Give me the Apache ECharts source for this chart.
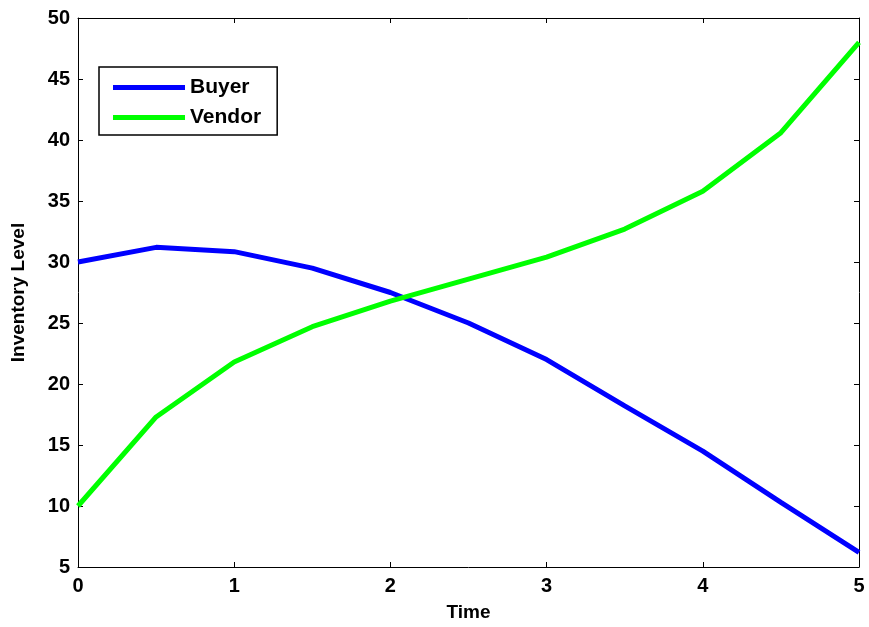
<!DOCTYPE html>
<html>
<head>
<meta charset="utf-8">
<script src="https://cdn.jsdelivr.net/npm/echarts@6/dist/echarts.min.js"></script>
<style>html,body{margin:0;padding:0;background:#fff;}#c{width:869px;height:627px;}</style>
</head>
<body>
<div id="c"></div>
<script>
var timeVals = [0, 0.5, 1, 1.5, 2, 2.5, 3, 3.5, 4, 4.5, 5];
var buyer = [30.0, 31.2, 30.85, 29.5, 27.5, 25.0, 22.0, 18.2, 14.5, 10.3, 6.2];
var vendor = [10.0, 17.3, 21.8, 24.7, 26.8, 28.6, 30.4, 32.7, 35.8, 40.6, 48.0];
var xTicks = [0, 1, 2, 3, 4, 5];
var yTicks = [5, 10, 15, 20, 25, 30, 35, 40, 45, 50];

function pairs(xs, ys) { return xs.map(function (x, i) { return [x, ys[i]]; }); }

var font = 'Liberation Sans, Arial, sans-serif';
var chart = echarts.init(document.getElementById('c'), null, {renderer: 'canvas'});
var axisCommon = {
  axisLine: {show: true, onZero: false, lineStyle: {color: '#000', width: 1}},
  axisTick: {show: true, inside: true, length: 5, lineStyle: {color: '#000', width: 1}},
  splitLine: {show: false}
};
chart.setOption({
  backgroundColor: '#fff',
  animation: false,
  grid: {left: 78, right: 10, top: 18, bottom: 59, containLabel: false},
  legend: {
    left: 99, top: 67, orient: 'vertical',
    padding: [10, 16, 7, 14],
    borderColor: '#000', borderWidth: 1.5,
    itemWidth: 72, itemHeight: 5, itemGap: 9, itemTextGap: 8,
    icon: 'rect',
    textStyle: {fontFamily: font, fontWeight: 'bold', fontSize: 21, color: '#000'},
    data: ['Buyer', 'Vendor']
  },
  xAxis: [
    Object.assign({type: 'value', min: 0, max: 5, interval: 1, position: 'bottom',
      name: 'Time', nameLocation: 'middle', nameGap: 36,
      nameTextStyle: {fontFamily: font, fontWeight: 'bold', fontSize: 19, color: '#000'},
      axisLabel: {fontFamily: font, fontWeight: 'bold', fontSize: 20, color: '#000', margin: 9,
        formatter: function (v) { return xTicks.indexOf(v) >= 0 ? String(v) : ''; }}}, axisCommon),
    Object.assign({type: 'value', min: 0, max: 5, interval: 1, position: 'top',
      axisLabel: {show: false}}, axisCommon)
  ],
  yAxis: [
    Object.assign({type: 'value', min: 5, max: 50, interval: 5, position: 'left',
      name: 'Inventory Level', nameLocation: 'middle', nameGap: 50, nameRotate: 90,
      nameTextStyle: {fontFamily: font, fontWeight: 'bold', fontSize: 19, color: '#000'},
      axisLabel: {fontFamily: font, fontWeight: 'bold', fontSize: 20, color: '#000', margin: 8,
        formatter: function (v) { return yTicks.indexOf(v) >= 0 ? String(v) : ''; }}}, axisCommon),
    Object.assign({type: 'value', min: 5, max: 50, interval: 5, position: 'right',
      axisLabel: {show: false}}, axisCommon)
  ],
  series: [
    {name: 'Buyer', type: 'line', data: pairs(timeVals, buyer), showSymbol: false, symbol: 'none',
      itemStyle: {color: '#0000ff'}, lineStyle: {color: '#0000ff', width: 5}, z: 3},
    {name: 'Vendor', type: 'line', data: pairs(timeVals, vendor), showSymbol: false, symbol: 'none',
      itemStyle: {color: '#00ff00'}, lineStyle: {color: '#00ff00', width: 5}, z: 4}
  ]
});
</script>
</body>
</html>
